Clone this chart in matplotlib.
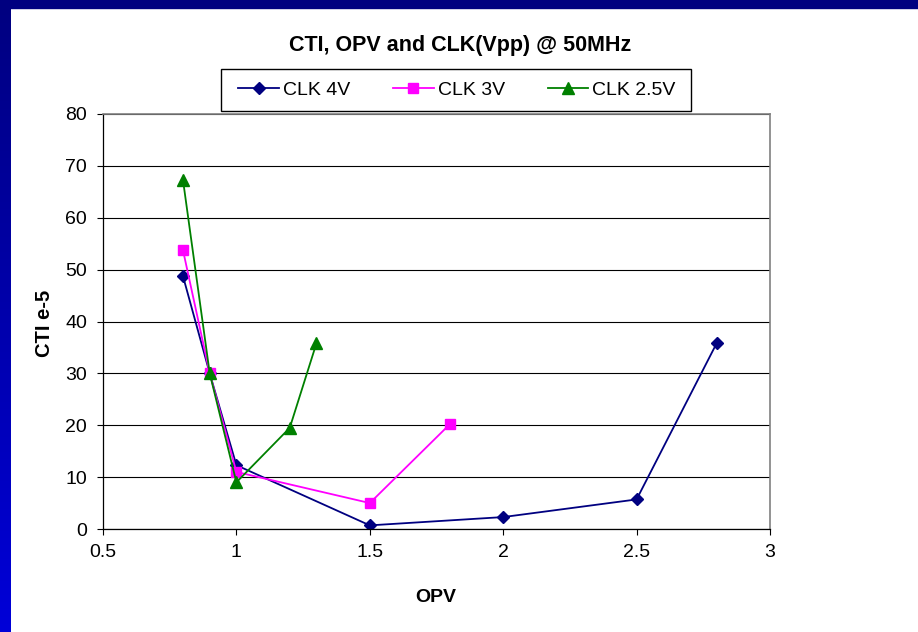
import numpy as np
import matplotlib
matplotlib.use('Agg')
import matplotlib.pyplot as plt
from matplotlib.patches import Rectangle

plt.rcParams['font.family'] = ['Liberation Sans', 'DejaVu Sans']

# 数据
opv_4v = [0.8, 0.9, 1.0, 1.5, 2.0, 2.5, 2.8]
cti_4v = [48.7, 30.0, 12.3, 0.7, 2.3, 5.7, 35.8]
opv_3v = [0.8, 0.9, 1.0, 1.5, 1.8]
cti_3v = [53.7, 30.0, 11.0, 5.0, 20.2]
opv_25v = [0.8, 0.9, 1.0, 1.2, 1.3]
cti_25v = [67.2, 30.0, 9.0, 19.5, 35.8]
x_ticks = [0.5, 1, 1.5, 2, 2.5, 3]
y_ticks = [0, 10, 20, 30, 40, 50, 60, 70, 80]

W, H = 918, 632
fig = plt.figure(figsize=(W / 100, H / 100), dpi=100)

# 左侧和顶部的蓝色边框
bar = fig.add_axes([0, 0, 11 / W, 1])
grad = np.linspace(0, 1, 256).reshape(-1, 1)
cmap = matplotlib.colors.LinearSegmentedColormap.from_list('b', ['#0000D8', '#000080'])
bar.imshow(grad, aspect='auto', cmap=cmap, origin='lower', extent=[0, 1, 0, 1])
bar.axis('off')
fig.patches.append(Rectangle((0, 1 - 8 / H), 1, 8 / H, transform=fig.transFigure,
                             color='#000080', zorder=5))

ax = fig.add_axes([103 / W, 1 - 529 / H, 667 / W, 415 / H])
ax.plot(opv_4v, cti_4v, color='#000080', marker='D', markersize=6.5, lw=1.3, label='CLK 4V')
ax.plot(opv_3v, cti_3v, color='#FF00FF', marker='s', markersize=7, lw=1.3, label='CLK 3V')
ax.plot(opv_25v, cti_25v, color='#008000', marker='^', markersize=8, lw=1.3, label='CLK 2.5V')

ax.set_xlim(0.5, 3)
ax.set_ylim(0, 80)
ax.set_xticks(x_ticks)
ax.set_xticklabels(['0.5', '1', '1.5', '2', '2.5', '3'])
ax.set_yticks(y_ticks)
ax.tick_params(axis='both', labelsize=14, length=4.5, width=0.8, direction='out')
ax.tick_params(axis='y', pad=7)
ax.tick_params(axis='x', pad=6)
ax.grid(axis='y', color='black', lw=0.8)
ax.set_axisbelow(True)
for s in ['top', 'right']:
    ax.spines[s].set_color('#808080')
    ax.spines[s].set_linewidth(1.2)
for s in ['left', 'bottom']:
    ax.spines[s].set_linewidth(0.9)

fig.text(460 / W, 1 - 45 / H, 'CTI, OPV and CLK(Vpp) @ 50MHz', ha='center', va='center',
         fontsize=15.5, fontweight='bold')
fig.text(436 / W, 1 - 598 / H, 'OPV', ha='center', va='center', fontsize=14, fontweight='bold')
fig.text(45 / W, 1 - 323 / H, 'CTI e-5', ha='center', va='center', rotation=90,
         fontsize=14.5, fontweight='bold')

# 图例框
fig.patches.append(Rectangle((221 / W, 1 - 111 / H), 470 / W, 42 / H, transform=fig.transFigure,
                             facecolor='white', edgecolor='black', lw=1.0, zorder=3))
leg = fig.legend(loc='center', ncol=3, bbox_to_anchor=(457 / W, 1 - 90 / H),
                 borderaxespad=0, borderpad=0, fontsize=14, handlelength=2.1,
                 handletextpad=0.2, columnspacing=2.2, frameon=False)
leg.set_zorder(4)

fig.savefig('out.png', dpi=100)
